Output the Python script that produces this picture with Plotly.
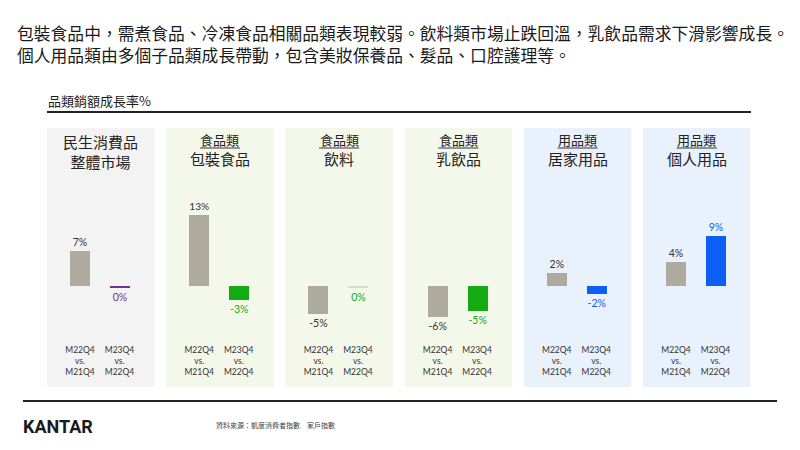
import plotly.graph_objects as go

# ---------------- data ----------------
periods = ["M22Q4<br>vs.<br>M21Q4", "M23Q4<br>vs.<br>M22Q4"]
panel_top = ["", "食品類", "食品類", "食品類", "用品類", "用品類"]
panel_main = ["民生消費品<br>整體市場", "包裝食品", "飲料", "乳飲品", "居家用品", "個人用品"]
growth_prev = [6.6, 13.4, -5.3, -5.8, 2.4, 4.5]      # M22Q4 vs M21Q4 (%)
growth_curr = [-0.35, -2.7, -0.2, -4.7, -1.6, 9.4]   # M23Q4 vs M22Q4 (%)
label_prev = ["7%", "13%", "-5%", "-6%", "2%", "4%"]
label_curr = ["0%", "-3%", "0%", "-5%", "-2%", "9%"]

headline = ("包裝食品中，需煮食品、冷凍食品相關品類表現較弱。飲料類市場止跌回溫，乳飲品需求下滑影響成長。<br>"
            "個人用品類由多個子品類成長帶動，包含美妝保養品、髮品、口腔護理等。")
section_title = "品類銷額成長率%"
source_text = "資料來源：凱度消費者指數　家戶指數"

# ---------------- styles ----------------
W, H = 800, 450
GRAY = "#aeab9e"
accent_bar = ["#7030a0", "#12ab12", "#cfe0c6", "#12ab12", "#0d5ef5", "#0d5ef5"]
accent_txt = ["#7030a0", "#12ab12", "#12ab12", "#12ab12", "#0d5ef5", "#0d5ef5"]
panel_bg = ["#f3f3f3", "#f4f8ea", "#f4f8ea", "#f4f8ea", "#e9f1fc", "#e9f1fc"]
CJK = "Noto Sans CJK TC, Noto Sans, sans-serif"
LAT = "Lato, Noto Sans, sans-serif"

def px(x):
    return x / W

def py(y):
    return 1 - y / H

panel_left0, panel_step, panel_w = 47, 119.2, 107.5
unit = 39.5
c0 = 33.0
xr = [-c0 / unit, (panel_w - c0) / unit]
bar_w = 20 / unit

y_top_px, y_bot_px = 180, 339
yr = [-10, 20]

fig = go.Figure()
shapes, annos = [], []
layout_axes = {}

for i in range(6):
    L = panel_left0 + i * panel_step
    R = L + panel_w
    ax = "x" if i == 0 else f"x{i+1}"
    key = "xaxis" if i == 0 else f"xaxis{i+1}"
    fig.add_trace(go.Bar(
        x=periods, y=[growth_prev[i], growth_curr[i]],
        marker=dict(color=[GRAY, accent_bar[i]], line=dict(width=0)),
        width=bar_w,
        text=[label_prev[i], label_curr[i]],
        textposition="outside",
        textfont=dict(family=LAT, size=10.5, color=["#333333", accent_txt[i]]),
        cliponaxis=False,
        xaxis=ax, yaxis="y", showlegend=False, hoverinfo="skip",
    ))
    layout_axes[key] = dict(
        domain=[px(L), px(R)], range=xr, anchor="y",
        showgrid=False, zeroline=False, showline=False, ticks="",
        tickfont=dict(family=LAT, size=8.5, color="#333333"),
        ticklabelstandoff=4, fixedrange=True,
    )
    shapes.append(dict(type="rect", xref="paper", yref="paper",
                       x0=px(L), x1=px(R), y0=py(387), y1=py(128),
                       fillcolor=panel_bg[i], line=dict(width=0), layer="below"))
    cx = (L + R) / 2
    if panel_top[i]:
        annos.append(dict(text=panel_top[i], x=px(cx), y=py(139.5), xref="paper", yref="paper",
                          showarrow=False, xanchor="center", yanchor="middle",
                          font=dict(family=CJK, size=13, color="#222222")))
        shapes.append(dict(type="line", xref="paper", yref="paper",
                           x0=px(cx - 20), x1=px(cx + 20), y0=py(148), y1=py(148),
                           line=dict(color="#333333", width=1)))
        annos.append(dict(text=panel_main[i], x=px(cx), y=py(158.5), xref="paper", yref="paper",
                          showarrow=False, xanchor="center", yanchor="middle",
                          font=dict(family=CJK, size=15, color="#222222")))
    else:
        annos.append(dict(text=panel_main[i], x=px(cx), y=py(151.5), xref="paper", yref="paper",
                          showarrow=False, xanchor="center", yanchor="middle",
                          font=dict(family=CJK, size=15, color="#222222")))

# header
annos.append(dict(text=headline, x=px(15), y=py(44), xref="paper", yref="paper",
                  showarrow=False, xanchor="left", yanchor="middle", align="left",
                  font=dict(family=CJK, size=16.8, color="#1a1a1a")))
annos.append(dict(text=section_title, x=px(46), y=py(100), xref="paper", yref="paper",
                  showarrow=False, xanchor="left", yanchor="middle",
                  font=dict(family=CJK, size=13, color="#1a1a1a")))
shapes.append(dict(type="line", xref="paper", yref="paper",
                   x0=px(47), x1=px(751), y0=py(112), y1=py(112),
                   line=dict(color="#222222", width=2)))

# footer
shapes.append(dict(type="line", xref="paper", yref="paper",
                   x0=px(23), x1=px(777), y0=py(401), y1=py(401),
                   line=dict(color="#222222", width=2)))
annos.append(dict(text="<b>KANTAR</b>", x=px(21), y=py(426), xref="paper", yref="paper",
                  showarrow=False, xanchor="left", yanchor="middle",
                  font=dict(family="Roboto, Noto Sans, sans-serif", size=18, color="#1a1a1a")))
annos.append(dict(text=source_text, x=px(214), y=py(425), xref="paper", yref="paper",
                  showarrow=False, xanchor="left", yanchor="middle",
                  font=dict(family=CJK, size=7, color="#444444")))

fig.update_layout(
    width=W, height=H,
    margin=dict(l=0, r=0, t=0, b=0),
    paper_bgcolor="white", plot_bgcolor="rgba(0,0,0,0)",
    yaxis=dict(domain=[py(y_bot_px), py(y_top_px)], range=yr, anchor="x",
               visible=False, fixedrange=True),
    shapes=shapes, annotations=annos, bargap=0,
    **layout_axes,
)

fig.write_html("out.html")
